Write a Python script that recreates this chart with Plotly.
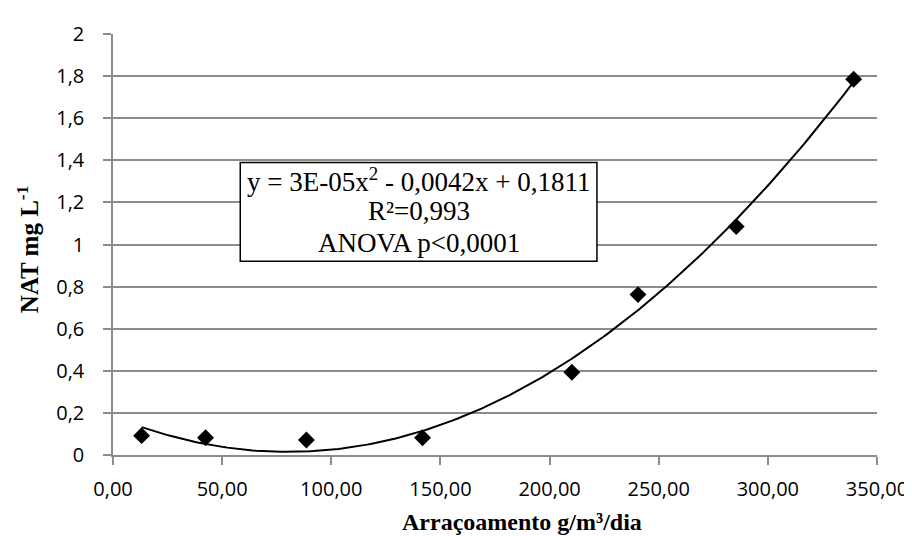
import numpy as np
import plotly.graph_objects as go

# Data
feeding = [13.1, 42.4, 88.6, 141.8, 210.2, 240.5, 285.5, 339.3]
nat = [0.092, 0.082, 0.071, 0.082, 0.393, 0.762, 1.085, 1.785]

x_tick_values = [0, 50, 100, 150, 200, 250, 300, 350]
x_tick_labels = ["0,00", "50,00", "100,00", "150,00", "200,00", "250,00", "300,00", "350,00"]
y_tick_values = [0, 0.2, 0.4, 0.6, 0.8, 1.0, 1.2, 1.4, 1.6, 1.8, 2.0]
y_tick_labels = ["0", "0,2", "0,4", "0,6", "0,8", "1", "1,2", "1,4", "1,6", "1,8", "2"]

equation_lines = ["y = 3E-05x<sup>2</sup> - 0,0042x + 0,1811", "R²=0,993", "ANOVA p<0,0001"]
equation_line_y = [1.305, 1.160, 1.005]

# Quadratic trendline fitted to the data
coef = np.polyfit(feeding, nat, 2)
xs = np.linspace(min(feeding), max(feeding), 200)
ys = np.polyval(coef, xs)

fig = go.Figure()
fig.add_trace(go.Scatter(x=xs, y=ys, mode="lines",
                         line=dict(color="black", width=2), showlegend=False, hoverinfo="skip"))
fig.add_trace(go.Scatter(x=feeding, y=nat, mode="markers",
                         marker=dict(symbol="diamond", size=13, color="black"), showlegend=False))

grid = "#8c8c8c"
tick_font = dict(family="Open Sans", size=20, color="black")
fig.update_layout(
    width=912, height=536,
    margin=dict(l=105, r=43, t=23, b=89),
    paper_bgcolor="white", plot_bgcolor="white",
    font=dict(family="Open Sans", size=20, color="black"),
    xaxis=dict(range=[0, 350], tickvals=x_tick_values, ticktext=x_tick_labels,
               showgrid=False, zeroline=False, showline=True, linecolor=grid, linewidth=1.5,
               ticks="outside", ticklen=8, tickcolor=grid, tickwidth=1.5,
               ticklabelstandoff=7, tickfont=tick_font),
    yaxis=dict(range=[0, 2], tickvals=y_tick_values, ticktext=y_tick_labels,
               showgrid=True, gridcolor=grid, gridwidth=1.5, zeroline=False,
               showline=True, linecolor=grid, linewidth=1.5,
               ticks="outside", ticklen=8, tickcolor=grid, tickwidth=1.5,
               ticklabelstandoff=15, tickfont=tick_font),
)

# Equation box
fig.add_shape(type="rect", xref="x", yref="y", x0=58.3, x1=221.7, y0=0.92, y1=1.389,
              fillcolor="white", line=dict(color="black", width=1.5), layer="above")
for line_text, line_y in zip(equation_lines, equation_line_y):
    fig.add_annotation(xref="x", yref="y", x=140, y=line_y, yanchor="middle", text=line_text,
                       showarrow=False, align="center",
                       font=dict(family="Liberation Serif", size=27, color="black"))

# Axis titles
fig.add_annotation(xref="paper", yref="paper", x=0.535, y=-0.16, yanchor="middle",
                   text="<b>Arraçoamento g/m³/dia</b>", showarrow=False,
                   font=dict(family="Liberation Serif", size=24, color="black"))
fig.add_annotation(xref="paper", yref="paper", x=-0.112, xanchor="center", y=0.49, yanchor="middle",
                   text="<b>NAT mg L<sup>-1</sup></b>", textangle=-90, showarrow=False,
                   font=dict(family="Liberation Serif", size=25, color="black"))

fig.write_html("out.html")
